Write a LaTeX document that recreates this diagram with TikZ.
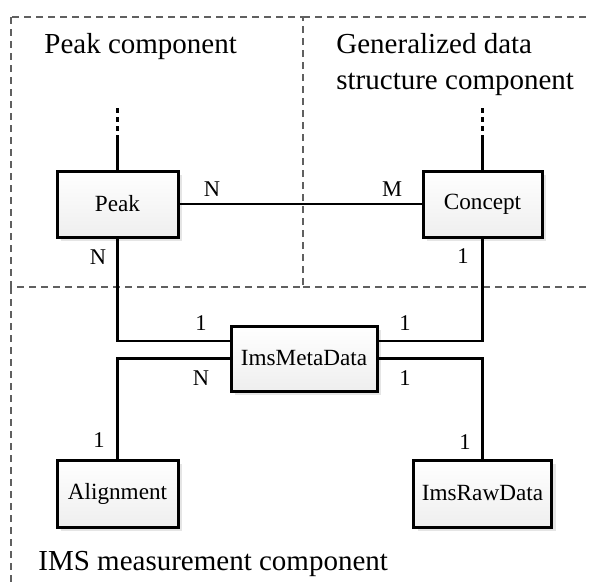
\documentclass[tikz,border=0pt]{standalone}
\usepackage{fontspec}
\setmainfont{Liberation Serif}
\usetikzlibrary{shadows}

\begin{document}
\begin{tikzpicture}[x = 1pt, y = -1pt, line width = 2.8pt,
	entity/.style = {draw, line width = 3pt, top color = white, bottom color = gray!13, minimum height = 66pt, inner sep = 0pt, font = \fontsize{23.2}{26}\selectfont, drop shadow = {shadow xshift = 4pt, shadow yshift = -4pt, fill = black!10, opacity = 1}},
	card/.style = {inner sep = 0pt, font = \fontsize{22.5}{24}\selectfont},
	region/.style = {draw = gray!75!black, line width = 1.3pt, dash pattern = on 7pt off 5pt},
	heading/.style = {inner sep = 0pt, font = \fontsize{29}{36}\selectfont}]

	\useasboundingbox (0, 0) rectangle (589, 584);

	% Component regions
	
		\draw [region] (11, 17) rectangle (303, 287);
		\draw [region] (303, 17) -- (589, 17);
		\draw [region] (303, 287) -- (589, 287);
		\draw [region] (11, 287) -- (11, 584);
		
		\node (peaktitle) [heading, anchor = base west] at (43, 53) {Peak component};
		\node (datatitle) [heading, anchor = north west, align = left] at (335, 32) {Generalized data\\structure component};
		\node (imstitle) [heading, anchor = base west] at (37, 570) {IMS measurement component};

	% Entities
	
		\node (peak) [entity, minimum width = 121pt] at (117.5, 204) {Peak};
		\node (concept) [entity, minimum width = 119pt] at (482.5, 204) {Concept};
		\node (meta) [entity, minimum width = 146pt, minimum height = 65pt] at (304, 358.5) {ImsMetaData};
		\node (align) [entity, minimum width = 121pt, minimum height = 67pt] at (117.5, 493.5) {Alignment};
		\node (raw) [entity, minimum width = 138pt, minimum height = 67pt] at (482.5, 493.5) {ImsRawData};
		
	% Relations
	
		\draw (peak) -- (concept);
		\draw (peak.south) |- ([yshift = 17.5pt] meta.west);
		\draw (concept.south) |- ([yshift = 17.5pt] meta.east);
		\draw (meta.west) -| (align.north);
		\draw (meta.east) -| (raw.north);
		
		% Links going on outside the picture
		
		\coordinate (peakup) at (117.5, 137);
		\coordinate (peakdots) at (117.5, 108);
		\coordinate (conceptup) at (482.5, 137);
		\coordinate (conceptdots) at (482.5, 108);
		
		\draw (peak.north) -- (peakup);
		\draw (concept.north) -- (conceptup);
		
		\begin{scope}[dash pattern = on 5pt off 4pt]
		
			\draw (peakdots) -- (peakup);
			\draw (conceptdots) -- (conceptup);
		
		\end{scope}
		
	% Cardinalities
	
		\node (peakn) [card] at (212, 189) {N};
		\node (conceptm) [card] at (392, 189) {M};
		\node (peakdown) [card] at (98, 257) {N};
		\node (conceptdown) [card] at (463, 256) {1};
		\node (metapeak) [card] at (201, 323) {1};
		\node (metaconcept) [card] at (405, 323) {1};
		\node (metaalign) [card] at (201, 378) {N};
		\node (metaraw) [card] at (405, 378) {1};
		\node (alignup) [card] at (99, 440) {1};
		\node (rawup) [card] at (465, 442) {1};

\end{tikzpicture}
\end{document}
